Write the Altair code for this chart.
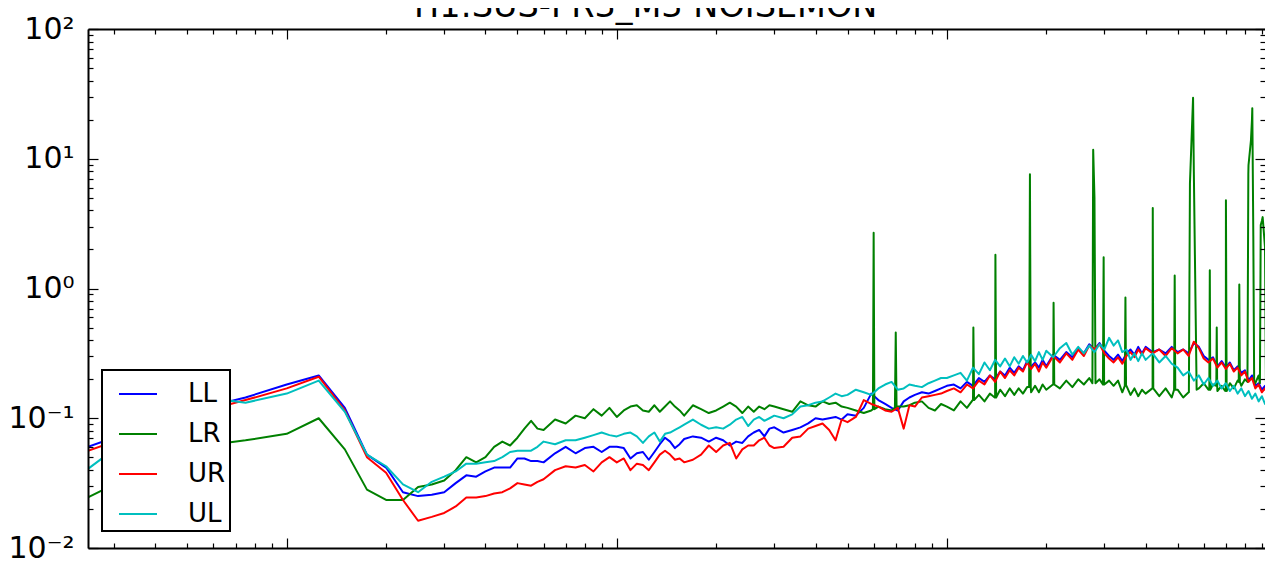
import altair as alt
import pandas as pd

TITLE = "H1:SUS-PR3_M3 NOISEMON"
CHANNELS = ["LL", "LR", "UR", "UL"]
COLORS = ["#0000ff", "#008000", "#ff0000", "#00bfbf"]

# frequency grid (Hz)
FREQ = [0.25, 0.5, 0.75, 1.0, 1.25, 1.5, 1.75, 2.0, 2.25, 2.5, 2.75, 3.0, 3.25, 3.5, 3.75,
        4.0, 4.25, 4.5, 4.75, 5.0, 5.25, 5.5, 5.75, 6.0, 6.5, 7.0, 7.5, 8.0, 8.5, 9.0, 9.5,
        10, 10.5, 11, 11.5, 12, 12.5, 13, 13.5, 14, 14.5, 15, 15.5, 16,
        17, 18, 19, 20, 21, 22, 23, 24, 25, 26, 27, 28, 29, 30,
        32, 34, 36, 38, 40, 42, 44, 46, 48, 50,
        53, 56, 59, 62, 65, 68, 71, 74, 77, 80, 84, 88, 92, 96, 100,
        105,
        110, 115, 120, 125, 130, 135, 140, 145, 150, 155, 160, 165, 170, 175, 180, 185, 190, 195, 200,
        210, 220, 230, 240, 250, 260, 270, 280, 290, 300, 310, 320, 330, 340, 350, 360, 370, 380, 390, 400,
        420, 440, 460, 480, 500, 520, 540, 560, 580, 600, 620, 640, 660, 680, 700, 720, 740, 760, 780,
        800, 820, 840, 860, 880, 900, 920, 940, 960, 980]

# log10 of the amplitude, one value per FREQ entry
LL_LOG10 = [-1.22, -0.95, -0.84, -0.74, -0.67, -0.92, -1.28, -1.38, -1.57, -1.60, -1.59, -1.57, -1.50, -1.44, -1.45,
            -1.41, -1.38, -1.38, -1.38, -1.31, -1.31, -1.33, -1.33, -1.34, -1.27, -1.22, -1.27, -1.23, -1.22, -1.26, -1.22,
            -1.22, -1.23, -1.31, -1.27, -1.26, -1.32, -1.26, -1.20, -1.15, -1.18, -1.23, -1.20, -1.16,
            -1.14, -1.15, -1.18, -1.15, -1.17, -1.21, -1.18, -1.19, -1.14, -1.11, -1.09, -1.14, -1.08, -1.07,
            -1.11, -1.09, -1.07, -1.04, -1.00, -1.01, -1.00, -0.99, -1.01, -0.97,
            -0.98, -0.92, -0.81, -0.86, -0.89, -0.92, -0.94, -0.87, -0.84, -0.82, -0.80, -0.81, -0.79, -0.77, -0.75,
            -0.74,
            -0.77, -0.72, -0.75, -0.69, -0.72, -0.67, -0.70, -0.64, -0.67, -0.61, -0.65, -0.60, -0.63, -0.56, -0.60, -0.57, -0.61, -0.55, -0.60,
            -0.51, -0.55, -0.49, -0.53, -0.46, -0.50, -0.43, -0.47, -0.42, -0.48, -0.52, -0.55, -0.51, -0.56, -0.50, -0.47, -0.51, -0.45, -0.50, -0.45,
            -0.49, -0.47, -0.50, -0.45, -0.49, -0.47, -0.50, -0.42, -0.45, -0.52, -0.55, -0.53, -0.60, -0.56, -0.61, -0.57, -0.63, -0.60, -0.65,
            -0.63, -0.71, -0.67, -0.75, -0.73, -0.78, -0.75, -0.81, -0.78, -0.83]

LR_LOG10 = [-1.61, -1.23, -1.17, -1.12, -1.00, -1.24, -1.55, -1.63, -1.63, -1.53, -1.51, -1.48, -1.40, -1.30, -1.34,
            -1.30, -1.22, -1.18, -1.21, -1.15, -1.08, -1.02, -1.08, -1.09, -1.01, -1.04, -0.98, -1.00, -0.93, -0.98, -0.92,
            -0.99, -0.94, -0.91, -0.90, -0.94, -0.95, -0.90, -0.95, -0.91, -0.87, -0.91, -0.94, -0.98,
            -0.90, -0.93, -0.96, -0.94, -0.91, -0.88, -0.91, -0.96, -0.91, -0.95, -0.91, -0.93, -0.90, -0.91,
            -0.93, -0.95, -0.87, -0.90, -0.91, -0.87, -0.89, -0.88, -0.91, -0.92,
            -0.94, -0.96, -0.94, -0.91, -0.93, -0.94, -0.91, -0.91, -0.90, -0.88, -0.87, -0.92, -0.94, -0.89, -0.91,
            -0.94,
            -0.87, -0.92, -0.86, -0.82, -0.87, -0.81, -0.84, -0.78, -0.83, -0.77, -0.82, -0.77, -0.81, -0.76, -0.80, -0.75, -0.80, -0.74, -0.78,
            -0.74, -0.77, -0.71, -0.76, -0.70, -0.74, -0.69, 0.70, -0.70, -0.74, -0.71, -0.75, -0.71, -0.80, -0.75, -0.82, -0.77, -0.83, -0.78, -0.81,
            -0.77, -0.83, -0.77, -0.84, -0.78, -0.84, -0.80, 0.90, -0.77, -0.73, -0.78, -0.74, -0.79, -0.75, -0.78, -0.73, -0.77, -0.71, -0.75,
            -0.70, 0.95, 1.30, -0.73, -0.67, 0.52, 0.32, -0.71, -0.66, -0.69]

UR_LOG10 = [-1.25, -0.98, -0.86, -0.77, -0.68, -0.94, -1.30, -1.42, -1.63, -1.79, -1.76, -1.73, -1.68, -1.61, -1.61,
            -1.60, -1.58, -1.57, -1.54, -1.50, -1.51, -1.52, -1.49, -1.47, -1.40, -1.37, -1.38, -1.36, -1.41, -1.34, -1.30,
            -1.34, -1.31, -1.40, -1.35, -1.36, -1.40, -1.34, -1.28, -1.25, -1.28, -1.32, -1.31, -1.34,
            -1.32, -1.28, -1.21, -1.26, -1.21, -1.19, -1.31, -1.24, -1.21, -1.21, -1.17, -1.15, -1.21, -1.23,
            -1.22, -1.15, -1.14, -1.08, -1.06, -1.04, -1.09, -1.17, -1.01, -1.03,
            -0.99, -0.86, -0.89, -0.91, -0.94, -0.95, -0.92, -1.08, -0.90, -0.91, -0.84, -0.83, -0.82, -0.81, -0.79,
            -0.77,
            -0.80, -0.74, -0.77, -0.71, -0.74, -0.67, -0.72, -0.64, -0.69, -0.63, -0.67, -0.61, -0.64, -0.57, -0.62, -0.58, -0.64, -0.57, -0.61,
            -0.52, -0.57, -0.50, -0.55, -0.47, -0.52, -0.44, -0.47, -0.43, -0.50, -0.54, -0.57, -0.53, -0.58, -0.52, -0.49, -0.53, -0.47, -0.51, -0.46,
            -0.50, -0.47, -0.52, -0.46, -0.50, -0.47, -0.52, -0.41, -0.46, -0.54, -0.57, -0.54, -0.61, -0.57, -0.62, -0.58, -0.64, -0.61, -0.67,
            -0.64, -0.72, -0.69, -0.77, -0.74, -0.80, -0.77, -0.83, -0.80, -0.84]

UL_LOG10 = [-1.39, -0.82, -0.88, -0.81, -0.71, -0.95, -1.28, -1.37, -1.51, -1.57, -1.49, -1.45, -1.41, -1.35, -1.35,
            -1.34, -1.33, -1.30, -1.26, -1.25, -1.25, -1.25, -1.22, -1.18, -1.20, -1.17, -1.17, -1.15, -1.13, -1.11, -1.13,
            -1.14, -1.12, -1.11, -1.14, -1.19, -1.14, -1.11, -1.18, -1.12, -1.11, -1.09, -1.07, -1.05,
            -1.01, -1.05, -1.08, -1.07, -1.08, -1.05, -1.01, -0.99, -1.06, -1.01, -0.99, -1.02, -1.00, -0.98,
            -1.00, -0.97, -0.91, -0.90, -0.88, -0.87, -0.84, -0.81, -0.83, -0.82,
            -0.78, -0.80, -0.82, -0.77, -0.74, -0.72, -0.78, -0.77, -0.74, -0.75, -0.76, -0.73, -0.71, -0.69, -0.69,
            -0.67,
            -0.65, -0.71, -0.61, -0.66, -0.57, -0.63, -0.55, -0.60, -0.54, -0.60, -0.53, -0.58, -0.52, -0.57, -0.51, -0.56, -0.49, -0.55, -0.48,
            -0.53, -0.46, -0.42, -0.51, -0.45, -0.50, -0.44, -0.49, -0.43, -0.47, -0.38, -0.44, -0.40, -0.49, -0.47, -0.55, -0.50, -0.56, -0.50, -0.55,
            -0.50, -0.57, -0.52, -0.58, -0.61, -0.67, -0.64, -0.71, -0.67, -0.74, -0.69, -0.75, -0.71, -0.77, -0.73, -0.79, -0.75, -0.81, -0.77,
            -0.83, -0.79, -0.85, -0.81, -0.87, -0.83, -0.89, -0.84, -0.90, -0.86]

# narrow lines in the LR channel (frequency in Hz, log10 amplitude)
SPIKE_FREQ = [59.7, 60, 60.3, 69.6, 70, 70.4, 119.7, 120.3, 120.9, 139.6, 140.3, 141,
              177.5, 178.5, 179.5, 209.5, 210.5, 211.5, 276, 277.5, 282, 297, 298.5, 299.5,
              346, 347.5, 349, 419, 420.5, 422, 488, 490, 492, 541, 545, 557, 571,
              624, 626, 628, 655, 657, 659, 697, 700.5, 704, 766, 769, 772,
              814, 819, 834, 842, 848, 853, 888, 893, 905, 926, 946, 950, 954]
SPIKE_LOG10 = [-0.93, 0.43, -0.93, -0.92, -0.34, -0.92, -0.86, -0.30, -0.86, -0.84, 0.26, -0.84,
               -0.76, 0.88, -0.76, -0.74, -0.11, -0.74, -0.73, 1.07, -0.73, -0.74, 0.24, -0.74,
               -0.75, -0.07, -0.75, -0.77, 0.62, -0.77, -0.78, 0.10, -0.78, -0.80, 0.81, 1.47, -0.78,
               -0.78, 0.14, -0.78, -0.75, -0.30, -0.75, -0.79, 0.68, -0.79, -0.72, 0.03, -0.72,
               -0.72, 0.88, 1.14, 1.39, 0.40, -0.72, -0.73, 0.49, 0.55, -0.72, -0.70, -0.01, -0.70]

Y_MAJOR = [0.01, 0.1, 1, 10, 100]
Y_MINOR = [0.02, 0.03, 0.04, 0.05, 0.06, 0.07, 0.08, 0.09,
           0.2, 0.3, 0.4, 0.5, 0.6, 0.7, 0.8, 0.9,
           2, 3, 4, 5, 6, 7, 8, 9,
           20, 30, 40, 50, 60, 70, 80, 90]
X_MAJOR = [1, 10, 100]
X_MINOR = [0.3, 0.4, 0.5, 0.6, 0.7, 0.8, 0.9,
           2, 3, 4, 5, 6, 7, 8, 9,
           20, 30, 40, 50, 60, 70, 80, 90,
           200, 300, 400, 500, 600, 700, 800, 900]

W, H = 1177, 519
FONT = "DejaVu Sans"


def frame(freqs, logs, name):
    return pd.DataFrame({"freq": freqs, "amp": [10 ** v for v in logs], "channel": name})


df_ll = frame(FREQ, LL_LOG10, "LL")
df_lr = frame(FREQ + SPIKE_FREQ, LR_LOG10 + SPIKE_LOG10, "LR")
df_ur = frame(FREQ, UR_LOG10, "UR")
df_ul = frame(FREQ, UL_LOG10, "UL")

xscale = alt.Scale(type="log", domain=[0.25, 920], nice=False)
yscale = alt.Scale(type="log", domain=[0.01, 100], nice=False)


def tick_axis(orient, values, size, offset, domain=False):
    return alt.Axis(orient=orient, values=values, tickSize=size, offset=offset,
                    labels=False, title=None, grid=False, ticks=True,
                    tickColor="black", tickWidth=1.2, domain=domain,
                    domainColor="black", domainWidth=2, zindex=1)


label_axis = alt.Axis(orient="left", values=Y_MAJOR, ticks=False, tickSize=0, title=None,
                      grid=False, domain=True, domainColor="black", domainWidth=2,
                      labelFont=FONT, labelFontSize=30, labelColor="black", labelPadding=14,
                      labelOverlap=False, zindex=1,
                      labelExpr="datum.value > 50 ? '10²' : datum.value > 5 ? '10¹' : "
                                "datum.value > 0.5 ? '10⁰' : datum.value > 0.05 ? '10⁻¹' : '10⁻²'")

color = alt.Color(
    "channel:N",
    scale=alt.Scale(domain=CHANNELS, range=COLORS),
    legend=alt.Legend(
        title=None, orient="none", legendX=14, legendY=341, direction="vertical",
        symbolType="stroke", symbolSize=1444, symbolStrokeWidth=2, symbolOffset=12,
        labelFont=FONT, labelFontSize=26, labelColor="black", labelOffset=30,
        labelExpr="datum.label + '\u00a0\u00a0\u2009'",
        padding=4, rowPadding=7, fillColor="white", strokeColor="black",
    ),
)


def line_layer(df, xaxis, yaxis, with_color=True, opacity=1.0):
    enc = dict(
        x=alt.X("freq:Q", scale=xscale, axis=xaxis),
        y=alt.Y("amp:Q", scale=yscale, axis=yaxis),
        order=alt.Order("freq:Q"),
    )
    if with_color:
        enc["color"] = color
    return alt.Chart(df).mark_line(strokeWidth=2, strokeJoin="round", opacity=opacity, clip=True).encode(**enc)


l1 = line_layer(df_ll,
                tick_axis("top", X_MAJOR, 10, -H, domain=True),
                label_axis)
l2 = line_layer(df_lr,
                tick_axis("top", X_MINOR, 5, -H),
                tick_axis("right", Y_MAJOR, 10, -W))
l3 = line_layer(df_ur,
                tick_axis("bottom", X_MAJOR, 10, -H, domain=True),
                tick_axis("right", Y_MINOR, 5, -W))
l4 = line_layer(df_ul,
                tick_axis("bottom", X_MINOR, 5, -H),
                tick_axis("left", Y_MAJOR, 10, -W))
l5 = line_layer(df_ll, None, tick_axis("left", Y_MINOR, 5, -W), with_color=False, opacity=0)

chart = (
    alt.layer(l1, l2, l3, l4, l5)
    .resolve_axis(x="independent", y="independent")
    .properties(
        width=W, height=H,
        title=alt.TitleParams(TITLE, font=FONT, fontSize=33.5, fontWeight="normal", color="black",
                              anchor="start", frame="group", dx=326, dy=36, offset=0,
                              baseline="alphabetic", limit=0),
        padding={"left": 80, "top": 21, "right": 0, "bottom": 14},
        autosize=alt.AutoSizeParams(type="none"),
    )
    .configure_view(stroke=None)
    .configure_legend(strokeWidth=2)
)

chart.save("out.html", embed_options={"renderer": "svg", "actions": False})
